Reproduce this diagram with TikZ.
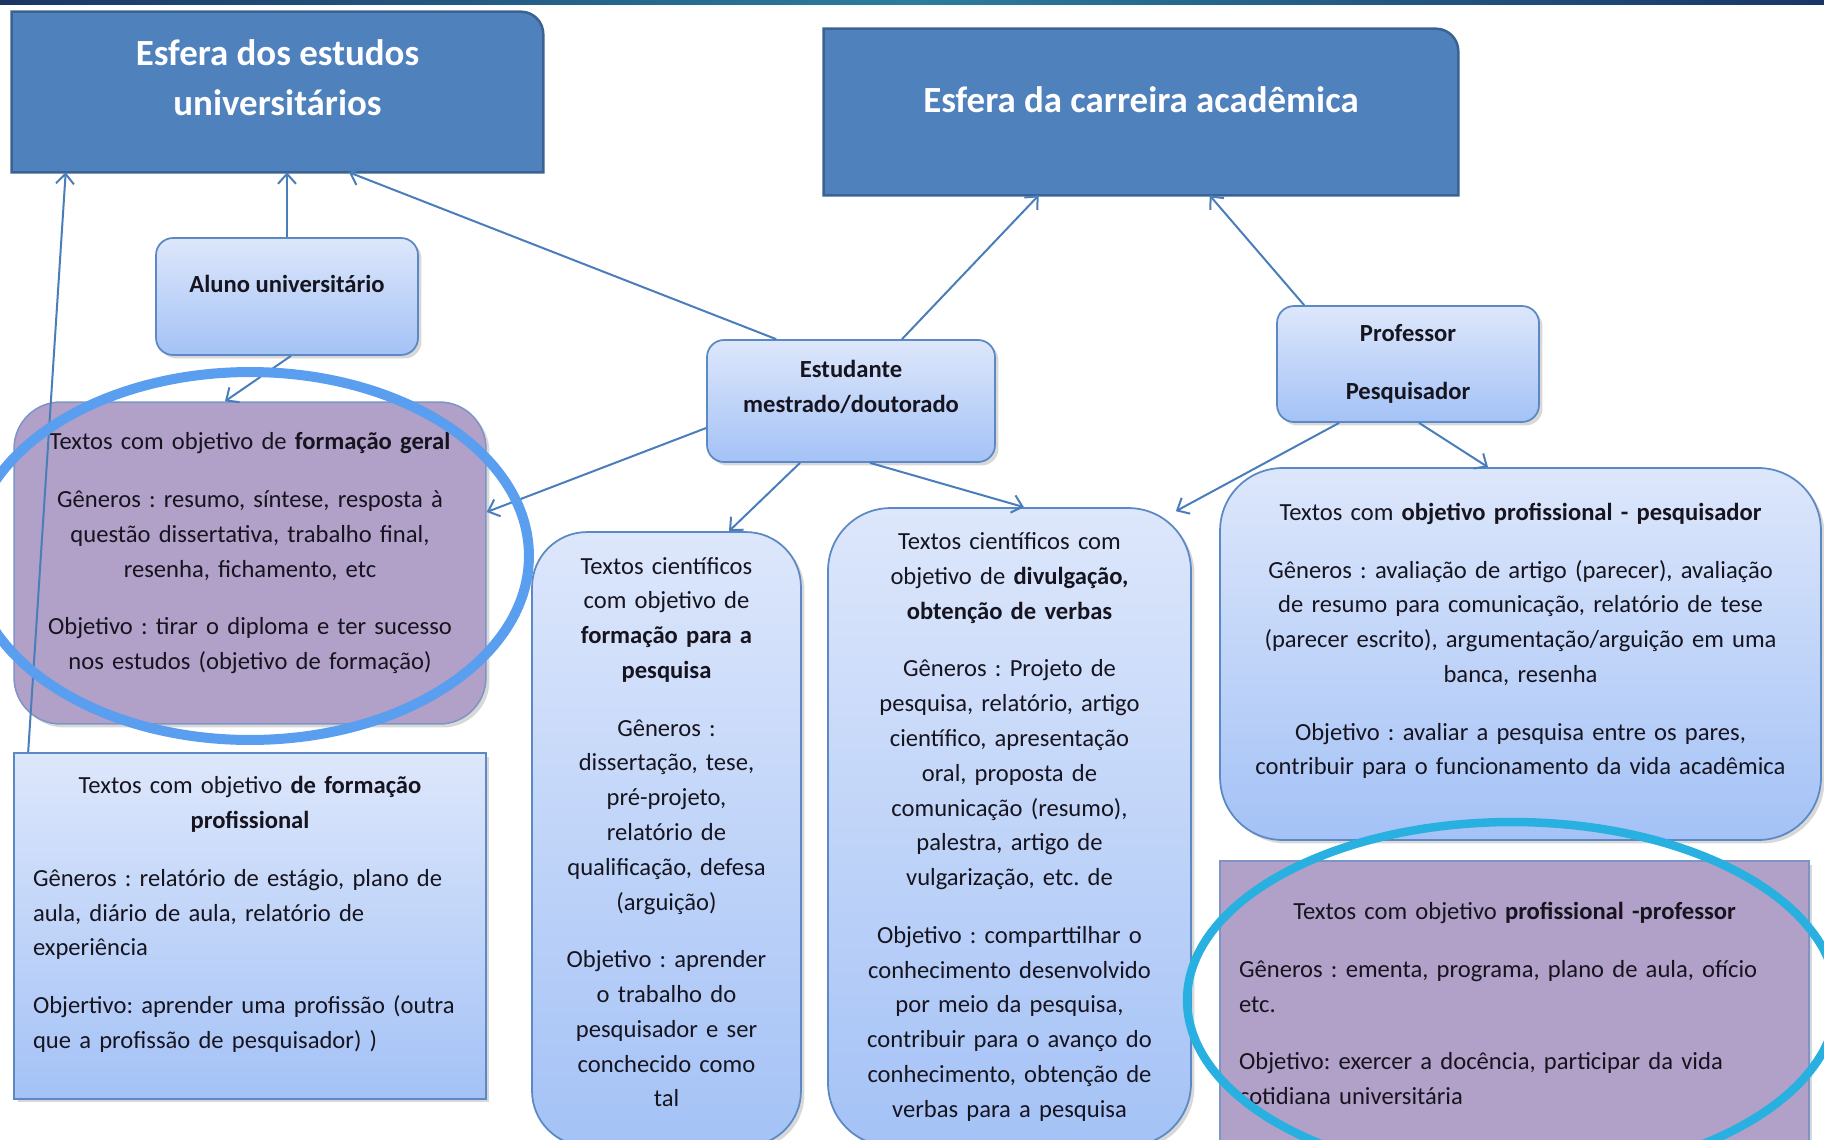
\documentclass[tikz,border=0pt]{standalone}
\usepackage{fontspec}
\setmainfont{Carlito}
\usetikzlibrary{arrows.meta,shadows,backgrounds}
\definecolor{sphblue}{HTML}{4F81BD}
\definecolor{sphedge}{HTML}{3A6394}
\definecolor{boxtop}{HTML}{DDE7FB}
\definecolor{boxbot}{HTML}{A4C2F6}
\definecolor{boxedge}{HTML}{5C89C4}
\definecolor{lilac}{HTML}{B1A0C7}
\definecolor{lilacedge}{HTML}{7C95C6}
\definecolor{linkblue}{HTML}{4A7EBB}
\definecolor{ringblue}{HTML}{5A9EF0}
\definecolor{ringcyan}{HTML}{28B1E0}
\definecolor{barnavy}{HTML}{1A3566}
\definecolor{barteal}{HTML}{2C7D9E}
\definecolor{inktext}{HTML}{16141F}
\newcommand{\padbelow}[1]{\rule[-#1]{0pt}{0pt}}
\frenchspacing
\begin{document}
\begin{tikzpicture}[x=0.02cm, y=-0.02cm,
  every node/.style={text=inktext, font=\fontsize{14}{19.8}\selectfont, inner sep=0pt},
  sphere/.style={text=white, align=center, font=\bfseries\fontsize{21}{28.5}\selectfont},
  spherebox/.style={fill=sphblue, draw=sphedge, line width=0.05cm},
  rolebox/.style={draw=boxedge, line width=0.035cm, top color=boxtop, bottom color=boxbot,
    rounded corners=0.34cm, align=center, font=\bfseries\fontsize{14}{19.8}\selectfont,
    drop shadow={opacity=0.3, shadow xshift=0.07cm, shadow yshift=-0.07cm}},
  textbox/.style={draw=boxedge, line width=0.035cm, top color=boxtop, bottom color=boxbot,
    drop shadow={opacity=0.3, shadow xshift=0.07cm, shadow yshift=-0.07cm}},
  lilacbox/.style={draw=lilacedge, line width=0.03cm, fill=lilac,
    drop shadow={opacity=0.3, shadow xshift=0.07cm, shadow yshift=-0.07cm}},
  link/.style={draw=linkblue, line width=0.04cm, -{Straight Barb[length=0.2cm,width=0.36cm]}},
  ring/.style={line width=0.2cm}]
\clip (0,0) rectangle (1824,1139);
\shade[left color=barnavy, right color=barnavy, middle color=barteal] (0,0) rectangle (1824,4);

\node[sphere, minimum width=10.62cm, minimum height=3.2cm] (e1) at (277.5,92) {Esfera dos estudos\\universitários\padbelow{0.56cm}};
\node[sphere, minimum width=12.68cm, minimum height=3.32cm] (e2) at (1141,112) {Esfera da carreira acadêmica\padbelow{0.5cm}};
\begin{scope}[on background layer]
  \fill[white] (0,4) rectangle (1824,1139);
  \foreach \s in {e1,e2}
    \draw[spherebox] (\s.south west) -- (\s.north west) -- ([xshift=-0.45cm]\s.north east)
      arc[start angle=90, end angle=0, radius=0.45cm] -- (\s.south east) -- cycle;
\end{scope}

\node[rolebox, minimum width=5.24cm, minimum height=2.34cm] (aluno) at (287,296.5) {Aluno universitário\padbelow{0.52cm}};
\node[rolebox, minimum width=5.76cm, minimum height=2.44cm] (estud) at (851,401) {Estudante\\mestrado/doutorado\padbelow{0.6cm}};
\node[rolebox, minimum width=5.24cm, minimum height=2.32cm] (profpesq) at (1408,364) {Professor\\[13pt]Pesquisador};

\node[lilacbox, rounded corners=0.93cm, minimum width=9.44cm, minimum height=6.44cm, text width=9cm, align=center] (geral) at (250,563)
  {Textos com objetivo de \textbf{formação geral}\\[13pt]Gêneros : resumo, síntese, resposta à\\questão dissertativa, trabalho final,\\resenha, fichamento, etc\\[13pt]Objetivo : tirar o diploma e ter sucesso\\nos estudos (objetivo de formação)\padbelow{0.48cm}};
\node[textbox, minimum width=9.44cm, minimum height=6.92cm, text width=8.68cm, align=left] (formprof) at (250,926)
  {{\centering Textos com objetivo \textbf{de formação}\\\textbf{profissional}\par}\vspace{13pt}Gêneros : relatório de estágio, plano de\\aula, diário de aula, relatório de\\experiência\\[13pt]Objertivo: aprender uma profissão (outra\\que a profissão de pesquisador) )\padbelow{0.54cm}};
\node[textbox, rounded corners=1.1cm, minimum width=5.38cm, minimum height=12.28cm, text width=5.1cm, align=center] (pesquisa) at (666.5,839)
  {Textos científicos\\com objetivo de\\\textbf{formação para a}\\\textbf{pesquisa}\\[13pt]Gêneros :\\dissertação, tese,\\pré-projeto,\\relatório de\\qualificação, defesa\\(arguição)\\[13pt]Objetivo : aprender\\o trabalho do\\pesquisador e ser\\conchecido como\\tal\padbelow{0.28cm}};
\node[textbox, rounded corners=1.25cm, minimum width=7.26cm, minimum height=12.76cm, text width=7.1cm, align=center] (divulg) at (1009.5,827)
  {Textos científicos com\\objetivo de \textbf{divulgação,}\\\textbf{obtenção de verbas}\\[13pt]Gêneros : Projeto de\\pesquisa, relatório, artigo\\científico, apresentação\\oral, proposta de\\comunicação (resumo),\\palestra, artigo de\\vulgarização, etc. de\\[13pt]Objetivo : comparttilhar o\\conhecimento desenvolvido\\por meio da pesquisa,\\contribuir para o avanço do\\conhecimento, obtenção de\\verbas para a pesquisa};
\node[textbox, rounded corners=1.25cm, minimum width=12.02cm, minimum height=7.44cm, text width=11.8cm, align=center] (pesqobj) at (1520.5,654)
  {Textos com \textbf{objetivo profissional - pesquisador}\\[13pt]Gêneros : avaliação de artigo (parecer), avaliação\\de resumo para comunicação, relatório de tese\\(parecer escrito), argumentação/arguição em uma\\banca, resenha\\[13pt]Objetivo : avaliar a pesquisa entre os pares,\\contribuir para o funcionamento da vida acadêmica\padbelow{0.6cm}};
\node[lilacbox, minimum width=11.78cm, minimum height=5.7cm, text width=11.02cm, align=left] (profobj) at (1514.5,1003.5)
  {{\centering Textos com objetivo \textbf{profissional -professor}\par}\vspace{13pt}Gêneros : ementa, programa, plano de aula, ofício\\etc.\\[13pt]Objetivo: exercer a docência, participar da vida\\cotidiana universitária};

\draw[link] (aluno.north) -- (aluno.north |- e1.south);
\draw[link] ([xshift=0.3cm]formprof.north west) -- ([xshift=1.08cm]e1.south west);
\draw[link] ([xshift=1.4cm]estud.north west) -- ([xshift=1.43cm]e1.south);
\draw[link] ([xshift=1.02cm]estud.north) -- ([xshift=4.3cm]e2.south west);
\draw[link] ([xshift=0.56cm]profpesq.north west) -- ([xshift=7.72cm]e2.south west);
\draw[link] ([xshift=0.08cm]aluno.south) -- ([xshift=-0.5cm]geral.north);
\draw[link] ([yshift=-0.54cm]estud.west) -- ([yshift=1.02cm]geral.east);
\draw[link] ([xshift=-1.02cm]estud.south) -- ([xshift=1.25cm]pesquisa.north);
\draw[link] ([xshift=0.38cm]estud.south) -- ([xshift=0.29cm]divulg.north);
\draw[link] ([xshift=1.26cm]profpesq.south west) -- ([xshift=-0.32cm,yshift=-0.08cm]divulg.north east);
\draw[link] ([xshift=0.22cm]profpesq.south) -- ([xshift=-0.65cm]pesqobj.north);

\draw[ring, ringblue] (250,556) ellipse [x radius=5.58cm, y radius=3.68cm];
\draw[ring, ringcyan, line width=0.17cm] (1512,1000) ellipse [x radius=6.5cm, y radius=3.56cm];
\end{tikzpicture}
\end{document}
